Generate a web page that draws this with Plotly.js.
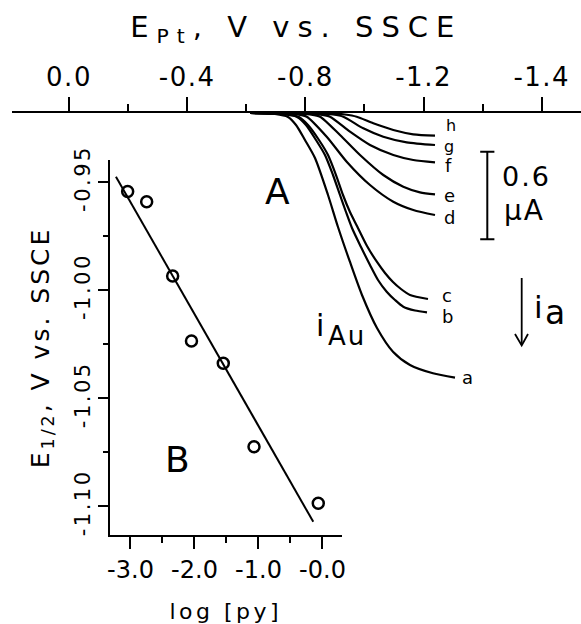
<!DOCTYPE html>
<html>
<head>
<meta charset="utf-8">
<script src="https://cdn.plot.ly/plotly-3.0.1.min.js"></script>
<style>
html,body{margin:0;padding:0;background:#fff;}
#chart{width:581px;height:624px;}
.xtitle{letter-spacing:8px;}
.x2title{letter-spacing:3.5px;}
.y2title{letter-spacing:3px;}
.xtick text{letter-spacing:1.5px;}
.y2tick text{letter-spacing:2.5px;}
.annotation-text-g text{letter-spacing:2px;}
</style>
</head>
<body>
<div id="chart"></div>
<script>
// ---------- Panel A: current-potential curves (E in V vs SSCE, i in uA, downward) ----------
const curveNames = ["a","b","c","d","e","f","g","h"];
const E_a = [-0.6125,-0.6971,-0.7411,-0.7682,-0.7986,-0.8325,-0.8765,-0.9103,-0.9509,-0.9915,-1.0423,-1.0964,-1.1540,-1.2318,-1.3063];
const i_a = [0,0.0068,0.0274,0.0822,0.1849,0.3082,0.5616,0.7808,1.0205,1.2466,1.4726,1.6349,1.7260,1.7829,1.8130];
const E_b = [-0.6125,-0.7208,-0.7716,-0.8020,-0.8359,-0.8663,-0.8934,-0.9171,-0.9374,-0.9577,-0.9882,-1.0186,-1.0457,-1.0751,-1.1032,-1.1313,-1.1709,-1.2115];
const i_b = [0,0.0068,0.0274,0.0822,0.1849,0.2877,0.4247,0.5616,0.6781,0.7877,0.9178,1.0411,1.1438,1.2240,1.2808,1.3267,1.3527,1.3651];
const E_c = [-0.6125,-0.7276,-0.7783,-0.8088,-0.8460,-0.8765,-0.9036,-0.9272,-0.9509,-0.9746,-1.0085,-1.0423,-1.0694,-1.0964,-1.1235,-1.1540,-1.2149];
const i_c = [0,0.0068,0.0274,0.0822,0.1849,0.2877,0.4247,0.5616,0.6781,0.7740,0.9110,1.0205,1.0959,1.1575,1.2055,1.2466,1.2740];
const E_d = [-0.6125,-0.7310,-0.7750,-0.8044,-0.8721,-0.9398,-1.0186,-1.0975,-1.1651,-1.2386];
const i_d = [0,0.0034,0.0103,0.0253,0.1623,0.3336,0.4932,0.6075,0.6644,0.6986];
const E_e = [-0.6125,-0.7648,-0.8156,-0.8494,-0.9171,-0.9848,-1.0636,-1.1313,-1.1878,-1.2386];
const i_e = [0,0.0021,0.0103,0.0253,0.1507,0.2877,0.4247,0.5048,0.5432,0.5568];
const E_f = [-0.6125,-0.7986,-0.8494,-0.8832,-0.9509,-1.0186,-1.0975,-1.1651,-1.2386];
const i_f = [0,0.0021,0.0103,0.0253,0.1281,0.2192,0.2877,0.3219,0.3377];
const E_g = [-0.6125,-0.8426,-0.8934,-0.9283,-0.9959,-1.0636,-1.1428,-1.2386];
const i_g = [0,0.0021,0.0103,0.0253,0.1048,0.1623,0.2007,0.2192];
const E_h = [-0.6125,-0.8832,-0.9340,-0.9736,-1.0298,-1.0975,-1.1651,-1.2386];
const i_h = [0,0.0021,0.0103,0.0253,0.0705,0.1164,0.1459,0.1555];

const topTickVals = [0,-0.4,-0.8,-1.2,-1.6];
const topTickText = ["0.0","-0.4","-0.8","-1.2","-1.4"];
const topMinorVals = [-0.2,-0.6,-1.0,-1.4];

// scale bar: 0.6 uA
const scaleBarE = -1.4156;
const scaleBarFrom = 0.265;
const scaleBarSize = 0.6;

// ---------- Panel B: E1/2 vs log[py] ----------
const logPy = [-3.044,-2.747,-2.341,-2.047,-1.550,-1.070,-0.066];
const E12 = [-0.9546,-0.9593,-0.9936,-1.0237,-1.0340,-1.0726,-1.0987];
const fitLogPy = [-3.227,-0.144];
const fitE12 = [-0.9477,-1.1073];
const bTickVals = [-3,-2,-1,0];
const bTickText = ["-3.0","-2.0","-1.0","-0.0"];
const bMinorVals = [-2.5,-1.5,-0.5];
const eTickVals = [-0.95,-1.00,-1.05,-1.10];
const eTickText = ["-0.95","-1.00","-1.05","-1.10"];
const eMinorVals = [-0.975,-1.025,-1.075];

// ---------- build ----------
const W = 581, H = 624;
const PX = x => x / W;
const PY = y => 1 - y / H;
const FONT = "DejaVu Sans";

const curveData = {a:[E_a,i_a],b:[E_b,i_b],c:[E_c,i_c],d:[E_d,i_d],e:[E_e,i_e],f:[E_f,i_f],g:[E_g,i_g],h:[E_h,i_h]};
const traces = curveNames.map(n => ({
  x: curveData[n][0], y: curveData[n][1], xaxis: "x", yaxis: "y",
  type: "scatter", mode: "lines", name: n, showlegend: false, hoverinfo: "skip",
  line: {color: "#000", width: 2.2, shape: "spline", smoothing: 0.7}
}));
traces.push({
  x: fitLogPy, y: fitE12, xaxis: "x2", yaxis: "y2", type: "scatter", mode: "lines",
  showlegend: false, hoverinfo: "skip", line: {color: "#000", width: 2}
});
traces.push({
  x: logPy, y: E12, xaxis: "x2", yaxis: "y2", type: "scatter", mode: "markers",
  showlegend: false, hoverinfo: "skip",
  marker: {symbol: "circle-open", size: 11, color: "#000", line: {width: 2.5, color: "#000"}}
});

const ann = (text, x, y, size, extra) => Object.assign({
  text: text, x: PX(x), y: PY(y), xref: "paper", yref: "paper",
  xanchor: "center", yanchor: "middle", showarrow: false,
  font: {family: FONT, size: size, color: "#000"}
}, extra || {});

const labelPos = {h:[452,126], g:[450,146.5], f:[449,165.4], e:[450,195.2], d:[450,217.7], c:[448,295], b:[448,316.5], a:[468,377]};
const labelSize = {h:16, g:16, f:18, e:18, d:18, c:18, b:18, a:18};
const annotations = curveNames.map(n => ann(n, labelPos[n][0], labelPos[n][1], labelSize[n]));
annotations.push(ann("A", 278, 191, 36));
annotations.push(ann("B", 178, 459.7, 36));
annotations.push(ann("i", 320.5, 325, 30));
annotations.push(ann("Au", 346.5, 336.4, 26));
annotations.push(ann("i", 539.5, 306.8, 31));
annotations.push(ann("a", 556, 312, 33));
annotations.push(ann("0.6", 526, 176, 27));
annotations.push(ann("μA", 524.5, 210.8, 28));

const shapes = [
  {type: "line", xref: "x", yref: "y", x0: scaleBarE, x1: scaleBarE, y0: scaleBarFrom, y1: scaleBarFrom + scaleBarSize, line: {color: "#000", width: 2}},
  {type: "line", xref: "x", yref: "y", x0: scaleBarE + 0.024, x1: scaleBarE - 0.024, y0: scaleBarFrom, y1: scaleBarFrom, line: {color: "#000", width: 2}},
  {type: "line", xref: "x", yref: "y", x0: scaleBarE + 0.024, x1: scaleBarE - 0.024, y0: scaleBarFrom + scaleBarSize, y1: scaleBarFrom + scaleBarSize, line: {color: "#000", width: 2}},
  {type: "line", xref: "paper", yref: "paper", x0: PX(521.7), x1: PX(521.7), y0: PY(278), y1: PY(345), line: {color: "#000", width: 1.8}},
  {type: "path", xref: "paper", yref: "paper",
   path: "M " + PX(515) + " " + PY(334) + " L " + PX(521.7) + " " + PY(345.5) + " L " + PX(528) + " " + PY(334),
   line: {color: "#000", width: 1.8}}
];

const axisCommon = {
  showgrid: false, zeroline: false, showline: true, linecolor: "#000",
  ticks: "outside", tickcolor: "#000", tickwidth: 2, automargin: false
};

const layout = {
  width: W, height: H,
  margin: {l: 0, r: 0, t: 0, b: 0, pad: 0},
  paper_bgcolor: "#fff", plot_bgcolor: "rgba(0,0,0,0)",
  font: {family: FONT, color: "#000"},
  showlegend: false,
  xaxis: Object.assign({}, axisCommon, {
    side: "top", anchor: "y", domain: [PX(11.7), 1],
    range: [0.1939, -1.7327], linewidth: 2.5,
    tickmode: "array", tickvals: topTickVals, ticktext: topTickText, ticklen: 14,
    tickfont: {family: FONT, size: 26, color: "#000"},
    minor: {tickmode: "array", tickvals: topMinorVals, ticks: "outside", ticklen: 7, tickwidth: 2, tickcolor: "#000", showgrid: false},
    title: {text: "E<sub>Pt</sub>, V vs. SSCE", font: {family: FONT, size: 29, color: "#000"}, standoff: 16}
  }),
  yaxis: {domain: [0, PY(113)], range: [(H - 113) / 146, 0], visible: false, fixedrange: true},
  xaxis2: Object.assign({}, axisCommon, {
    anchor: "y2", domain: [PX(110), PX(341.5)], range: [-3.32, 0.297], linewidth: 2,
    tickmode: "array", tickvals: bTickVals, ticktext: bTickText, ticklen: 12,
    tickfont: {family: FONT, size: 24, color: "#000"},
    minor: {tickmode: "array", tickvals: bMinorVals, ticks: "outside", ticklen: 6, tickwidth: 2, tickcolor: "#000", showgrid: false},
    title: {text: "log [py]", font: {family: FONT, size: 22, color: "#000"}, standoff: 22}
  }),
  yaxis2: Object.assign({}, axisCommon, {
    anchor: "x2", domain: [PY(535), PY(160)], range: [-1.1134, -0.9400], linewidth: 2,
    tickmode: "array", tickvals: eTickVals, ticktext: eTickText, ticklen: 10, tickangle: -90,
    tickfont: {family: FONT, size: 21, color: "#000"},
    minor: {tickmode: "array", tickvals: eMinorVals, ticks: "outside", ticklen: 5, tickwidth: 2, tickcolor: "#000", showgrid: false},
    title: {text: "E<sub>1/2</sub>, V vs. SSCE", font: {family: FONT, size: 25, color: "#000"}, standoff: 14}
  }),
  annotations: annotations,
  shapes: shapes
};

Plotly.newPlot("chart", traces, layout, {staticPlot: true, displayModeBar: false});
</script>
</body>
</html>
